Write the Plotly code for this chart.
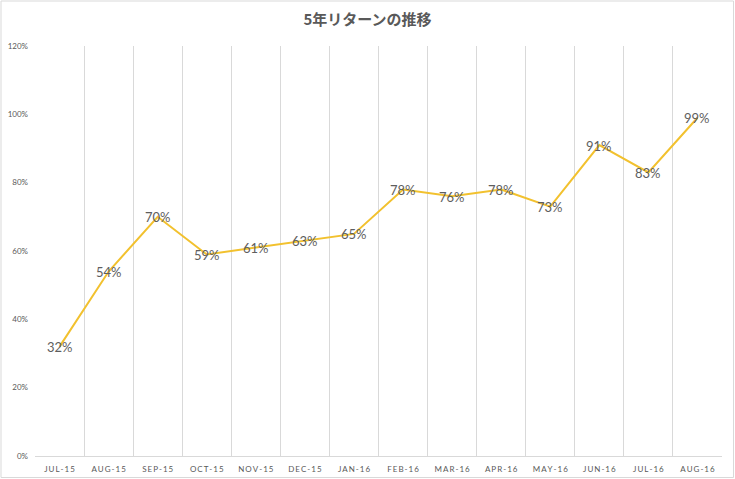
import plotly.graph_objects as go

months = ["JUL-15", "AUG-15", "SEP-15", "OCT-15", "NOV-15", "DEC-15", "JAN-16",
          "FEB-16", "MAR-16", "APR-16", "MAY-16", "JUN-16", "JUL-16", "AUG-16"]
returns = [32, 54, 70, 59, 61, 63, 65, 78, 76, 78, 73, 91, 83, 99]
y_ticks = [0, 20, 40, 60, 80, 100, 120]

W, H = 735, 479
ml, mr, mt, mb = 35, 13, 46, 23
pw, ph = W - ml - mr, H - mt - mb

def spaced(s):
    return "\u2009".join(s)

xs = list(range(len(months)))

fig = go.Figure()
fig.add_trace(go.Scatter(
    x=xs, y=returns, mode="lines",
    line=dict(color="#F2C12E", width=2),
    hoverinfo="skip",
))

for x, v in zip(xs, returns):
    fig.add_annotation(x=x, y=v, text=f"{v}%", showarrow=False,
                       xanchor="center", yanchor="middle", yshift=-0.5,
                       font=dict(family="Lato, Open Sans, sans-serif", size=13, color="#5e5e5e"))

fig.update_layout(
    width=W, height=H,
    margin=dict(l=ml, r=mr, t=mt, b=mb, autoexpand=False),
    paper_bgcolor="white", plot_bgcolor="white",
    showlegend=False,
    title=dict(text="<b>5年リターンの推移</b>", x=0.5, xanchor="center", y=1 - 20 / H, yanchor="middle",
               font=dict(family="Noto Sans CJK JP", size=15, color="#595959")),
    xaxis=dict(
        range=[-0.5, len(months) - 0.5], automargin=False,
        tickvals=xs, ticktext=[spaced(m) for m in months],
        tickfont=dict(family="Lato, Open Sans, sans-serif", size=8, color="#595959"),
        showgrid=False, zeroline=False,
        showline=True, linecolor="#d9d9d9", linewidth=1,
        ticks="", ticklen=0, ticklabelstandoff=5,
        minor=dict(tickvals=[i - 0.5 for i in range(len(months) + 1)], showgrid=True,
                   gridcolor="#d9d9d9", gridwidth=1, ticks=""),
    ),
    yaxis=dict(
        range=[0, 120], tickvals=y_ticks, ticktext=[f"{v}%" for v in y_ticks], automargin=False,
        tickfont=dict(family="Lato, Open Sans, sans-serif", size=8, color="#595959"),
        showgrid=False, zeroline=False, showline=False, ticks="", ticklabelstandoff=6,
    ),
    shapes=[dict(type="rect", xref="paper", yref="paper",
                 x0=-(ml - 1) / pw, x1=1 + (mr - 1.5) / pw,
                 y0=-(mb - 1.5) / ph, y1=1 + (mt - 1) / ph,
                 line=dict(color="#d9d9d9", width=1), fillcolor="rgba(0,0,0,0)")],
)

fig.write_html("out.html")
